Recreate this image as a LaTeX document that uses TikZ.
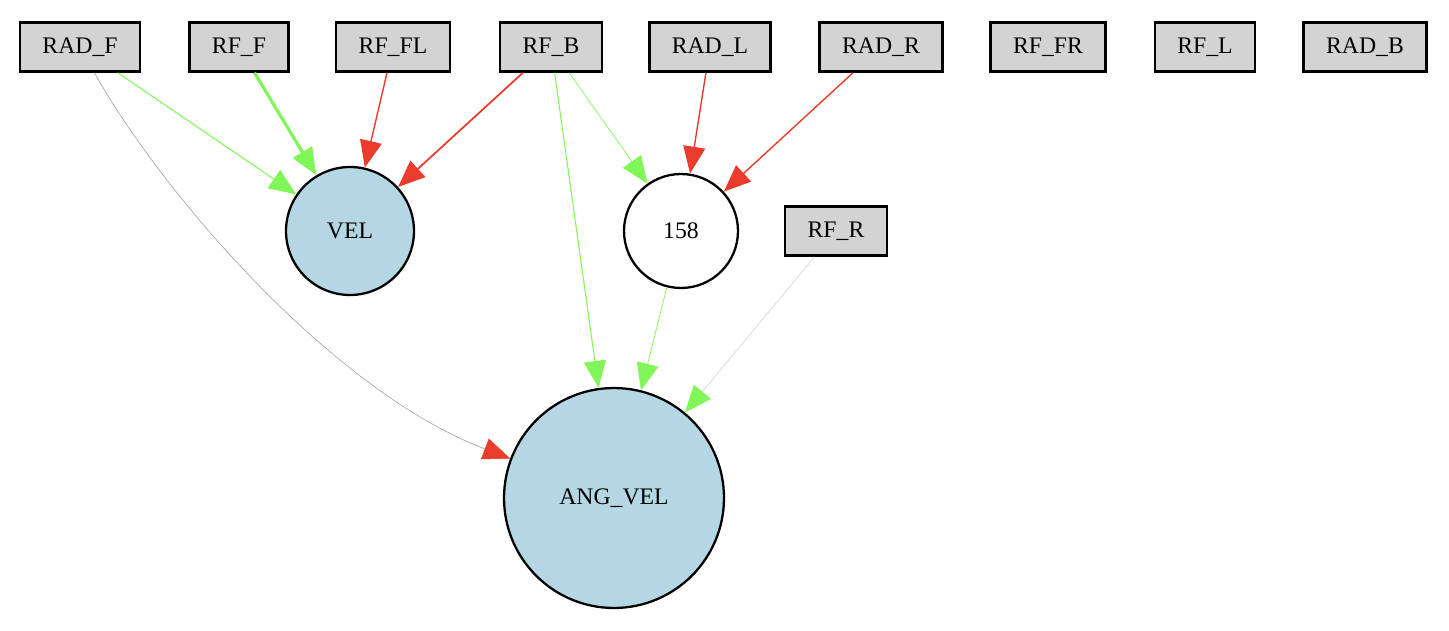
\documentclass[tikz,border=0pt]{standalone}
\usepackage{fontspec}
\setmainfont{Liberation Serif}
\usetikzlibrary{arrows.meta}
\definecolor{boxgray}{RGB}{211,211,211}
\definecolor{outblue}{RGB}{181,215,227}
\definecolor{posgreen}{RGB}{128,246,88}
\definecolor{negred}{RGB}{233,60,44}
\begin{document}
\begin{tikzpicture}[x=0.02cm,y=-0.02cm,
  >={Triangle[length=0.54cm,width=0.44cm]},
  font=\fontsize{13.5}{15}\selectfont,
  inbox/.style={draw,line width=1.4pt,fill=boxgray,minimum height=0.98cm,inner xsep=0.45cm},
  outnode/.style={draw,circle,line width=1.3pt,fill=outblue,inner sep=0pt},
  hidnode/.style={draw,circle,line width=1.3pt,fill=white,inner sep=0pt},
  poslink/.style={color=posgreen,line width=0.6pt},
  neglink/.style={color=negred,line width=0.8pt}]
\useasboundingbox (0,0) rectangle (1449,631);
% inputs
\node[inbox] (radf) at (80,47) {RAD\_F};
\node[inbox] (rff) at (239,47) {RF\_F};
\node[inbox] (rffl) at (393,47) {RF\_FL};
\node[inbox] (rfb) at (551,47) {RF\_B};
\node[inbox] (radl) at (710,47) {RAD\_L};
\node[inbox] (radr) at (881,47) {RAD\_R};
\node[inbox] (rffr) at (1048,47) {RF\_FR};
\node[inbox] (rfl) at (1205,47) {RF\_L};
\node[inbox] (radb) at (1365,47) {RAD\_B};
\node[inbox] (rfr) at (836,231) {RF\_R};
% hidden and outputs
\node[outnode,minimum size=2.56cm] (vel) at (350,231) {VEL};
\node[hidnode,minimum size=2.28cm] (h158) at (681,231) {158};
\node[outnode,minimum size=4.4cm] (angvel) at (614,498) {ANG\_VEL};
% connections
\draw[->,poslink] (radf) -- (vel);
\draw[->,poslink,line width=1.8pt] (rff) -- (vel);
\draw[->,neglink] (rffl) -- (vel);
\draw[->,neglink,line width=1pt] (rfb) -- (vel);
\draw[->,poslink] (rfb) -- (angvel);
\draw[->,poslink,line width=0.4pt] (rfb) -- (h158);
\draw[->,neglink] (radl) -- (h158);
\draw[->,neglink] (radr) -- (h158);
\draw[->,poslink,line width=0.4pt] (h158) -- (angvel);
\draw[-{Triangle[length=0.54cm,width=0.44cm,color=negred]},color=gray!80,line width=0.3pt]
  (radf) .. controls (160,190) and (330,390) .. (angvel);
\draw[-{Triangle[length=0.54cm,width=0.44cm,color=posgreen]},color=gray!40,line width=0.3pt]
  (rfr) -- (angvel);
\end{tikzpicture}
\end{document}
